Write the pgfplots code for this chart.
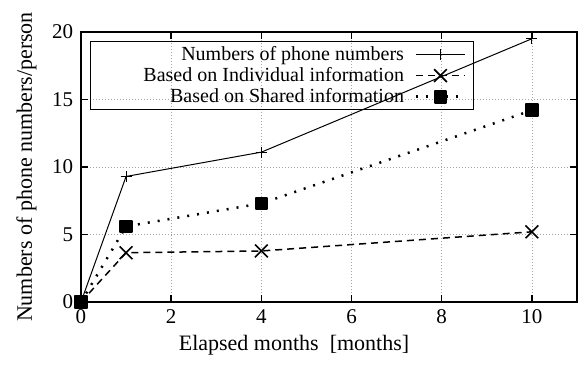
\documentclass[border=0pt]{standalone}
\usepackage{fontspec}
\setmainfont{Liberation Serif}
\usepackage{pgfplots}
\pgfplotsset{compat=1.18}
\begin{document}
\fontsize{20bp}{22bp}\selectfont
\begin{tikzpicture}
\useasboundingbox (-81bp,-70bp) rectangle (497bp,302bp);
\begin{axis}[
  scale only axis,
  width=496bp, height=270bp,
  at={(0,0)}, anchor=south west,
  xmin=0, xmax=11, ymin=0, ymax=20,
  xtick={0,2,4,6,8,10}, ytick={0,5,10,15,20},
  tick align=inside,
  major tick length=7bp,
  tick style={black, line width=1.5bp},
  axis line style={black, line width=1.5bp},
  grid=major,
  major grid style={gray!70, line width=0.8bp, dash pattern=on 1bp off 2bp},
  /pgf/number format/assume math mode=true,
  tick label style={font=\fontsize{21bp}{22bp}\selectfont},
  xticklabel style={yshift=-1bp},
  yticklabel style={xshift=-1bp},
  label style={font=\fontsize{22bp}{24bp}\selectfont},
  xlabel={Elapsed months~~[months]},
  xlabel style={xshift=-35bp, yshift=2bp},
  ylabel={Numbers of phone numbers/person},
  ylabel style={yshift=2bp},
  legend cell align=right,
  legend plot pos=right,
  legend style={
    at={(9bp,261bp)}, anchor=north west,
    draw=black, fill=none, line width=1bp,
    font=\fontsize{20bp}{22bp}\selectfont,
    inner xsep=0bp, inner ysep=3bp,
    row sep=1bp,
    nodes={inner ysep=1.5bp},
  },
  legend image code/.code={
    \path[draw=none, fill=none] (0bp,-5bp) rectangle (68bp,5bp);
    \draw[#1] (10bp,0bp) -- (34.5bp,0bp) -- (59bp,0bp);
    \draw[#1, solid] plot coordinates {(34.5bp,0bp)};
  },
]
\addplot[black, line width=1bp, mark=+, mark size=5.5bp,
  mark options={solid, line width=1bp}]
  coordinates {(0,0) (1,9.3) (4,11.1) (10,19.5)};
\addlegendentry{Numbers of phone numbers}
\addplot[black, line width=1.5bp, dash pattern=on 7bp off 5bp, mark=x, mark size=9bp,
  mark options={solid, line width=1.6bp}]
  coordinates {(0,0) (1,3.65) (4,3.78) (10,5.2)};
\addlegendentry{\hspace{51bp}Based on Individual information}
\addplot[black, line width=2.5bp, dash pattern=on 2bp off 8bp, mark=square*, mark size=5.8bp,
  mark options={solid, line width=2bp, line join=round}]
  coordinates {(0,0) (1,5.6) (4,7.3) (10,14.2)};
\addlegendentry{Based on Shared information}
\end{axis}
\end{tikzpicture}
\end{document}
